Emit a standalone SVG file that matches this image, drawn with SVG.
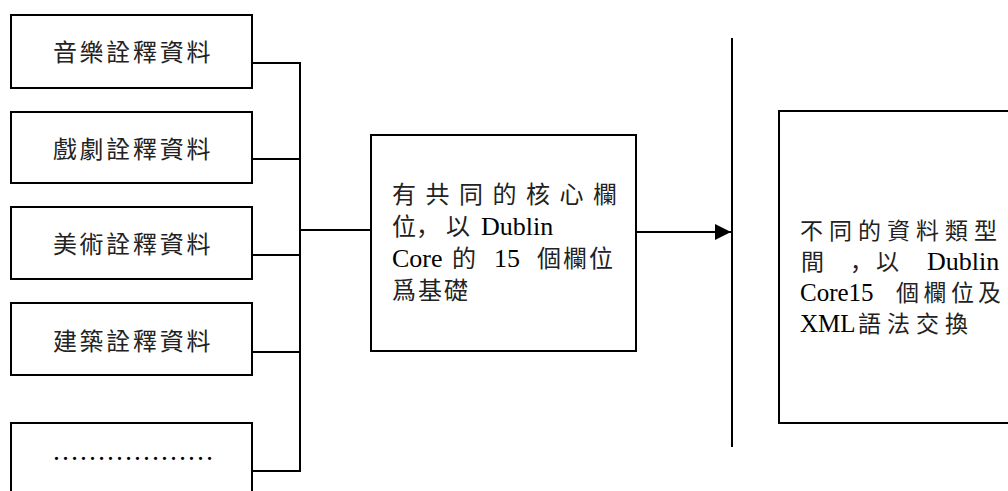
<svg xmlns="http://www.w3.org/2000/svg" width="1008" height="491" viewBox="0 0 1008 491">
<defs>
<style>
.box{fill:#fff;stroke:#000;stroke-width:2}
.ln{fill:none;stroke:#000;stroke-width:2}
.cjk{font-family:"Noto Sans CJK TC","Noto Sans CJK JP",sans-serif;fill:#222}
.jp{font-family:"Noto Sans CJK JP","Noto Sans CJK TC",sans-serif;fill:#222}
.lat{font-family:"Liberation Serif","Times New Roman",serif;fill:#000}
.lbl{font-size:24px;letter-spacing:2.7px}
</style>
<marker id="arr" markerWidth="16" markerHeight="16" refX="16" refY="8" orient="auto" markerUnits="userSpaceOnUse">
<polygon points="0,0 16,8 0,16" fill="#000"/>
</marker>
</defs>
<rect width="1008" height="491" fill="#fff"/>
<g id="connectors">
<path class="ln" d="M252,63 H300 M252,159 H300 M252,255 H300 M252,352 H300 M252,471 H300 M300,62 V472 M300,230 H371"/>
<path class="ln" d="M636,232 H731" marker-end="url(#arr)"/>
<path class="ln" d="M732,38 V447"/>
</g>
<g id="n1"><rect class="box" x="11" y="15" width="241" height="73"/><text class="cjk lbl" x="133" y="61" text-anchor="middle">音樂詮釋資料</text></g>
<g id="n2"><rect class="box" x="11" y="112" width="241" height="71"/><text class="cjk lbl" x="133" y="158" text-anchor="middle">戲劇詮釋資料</text></g>
<g id="n3"><rect class="box" x="11" y="207" width="241" height="72"/><text class="cjk lbl" x="133" y="253" text-anchor="middle">美術詮釋資料</text></g>
<g id="n4"><rect class="box" x="11" y="303" width="241" height="72"/><text class="cjk lbl" x="133" y="350" text-anchor="middle">建築詮釋資料</text></g>
<g id="n5"><rect class="box" x="11" y="423" width="241" height="80"/><text class="lat" x="52" y="460" font-size="27">………………</text></g>
<g id="center">
<rect class="box" x="371" y="135" width="265" height="216"/>
<text class="cjk" font-size="24" x="392 425.5 459 492.5 526 559.5 593" y="203">有共同的核心欄</text>
<text class="cjk" font-size="24" x="392" y="235">位</text>
<text class="jp" font-size="24" x="416" y="235">，</text>
<text class="cjk" font-size="24" x="446" y="235">以</text>
<text class="lat" font-size="26" x="481" y="235">Dublin</text>
<text class="lat" font-size="26" x="392" y="267">Core</text>
<text class="cjk" font-size="24" x="452" y="267">的</text>
<text class="lat" font-size="26" x="494" y="267">15</text>
<text class="cjk" font-size="24" x="537 563 589" y="267">個欄位</text>
<text class="cjk" font-size="24" x="392 418 444" y="299">爲基礎</text>
</g>
<g id="right">
<rect class="box" x="779" y="111" width="240" height="312"/>
<text class="cjk" font-size="23" x="800 829 858 887 916 945 974" y="239">不同的資料類型</text>
<text class="cjk" font-size="23" x="801" y="270">間</text>
<text class="jp" font-size="23" x="850" y="270">，</text>
<text class="cjk" font-size="23" x="876" y="270">以</text>
<text class="lat" font-size="26" x="927" y="270">Dublin</text>
<text class="lat" font-size="25" x="800" y="301">Core15</text>
<text class="cjk" font-size="23" x="896 923.5 951 978" y="301">個欄位及</text>
<text class="lat" font-size="25" x="800" y="332">XML</text>
<text class="cjk" font-size="23" x="858 887 916 945" y="332">語法交換</text>
</g>
</svg>
